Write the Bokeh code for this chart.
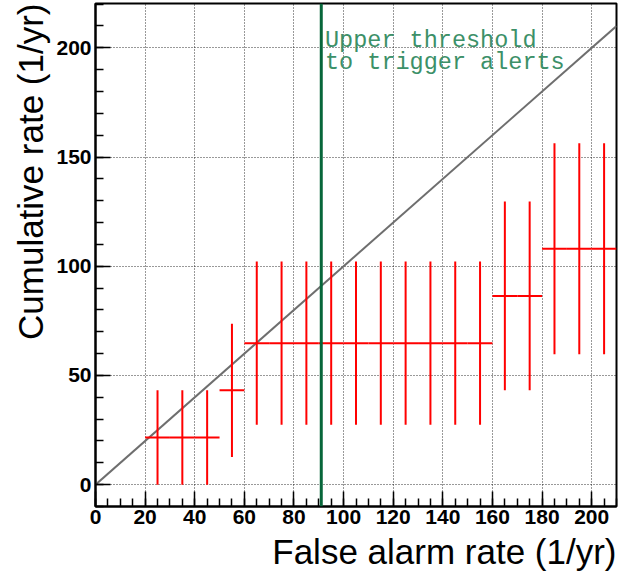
from bokeh.plotting import figure
from bokeh.models import Range1d, FixedTicker, Span, Title
from bokeh.core.properties import value
from bokeh.embed import file_html
from bokeh.resources import INLINE

# ---- data ----
bin_centers = [25, 35, 45, 55, 65, 75, 85, 95, 105, 115, 125, 135, 145, 155, 165, 175, 185, 195, 205]
bin_half_width = 5
rates = [21.6, 21.6, 21.6, 43.2, 64.8, 64.8, 64.8, 64.8, 64.8, 64.8, 64.8, 64.8, 64.8, 64.8,
         86.4, 86.4, 108.0, 108.0, 108.0]
rate_errors = [21.6, 21.6, 21.6, 30.5, 37.4, 37.4, 37.4, 37.4, 37.4, 37.4, 37.4, 37.4, 37.4, 37.4,
               43.2, 43.2, 48.3, 48.3, 48.3]
diag_x = [0, 210]
diag_y = [0, 210]
threshold_x = 91
note_lines = ["Upper threshold", "to trigger alerts"]
note_x = [92.5, 92.5]
note_y = [203.3, 193.4]
x_major = [0, 20, 40, 60, 80, 100, 120, 140, 160, 180, 200]
x_minor = list(range(0, 211, 5))
y_major = [0, 50, 100, 150, 200]
y_minor = list(range(-10, 221, 10))
x_title = "False alarm rate (1/yr)"
y_title = "Cumulative rate (1/yr)"

X_MIN, X_MAX = 0, 210
Y_MIN, Y_MAX = -10, 220.3

p = figure(width=638, height=579, output_backend="svg", toolbar_location=None,
           x_range=Range1d(X_MIN, X_MAX), y_range=Range1d(Y_MIN, Y_MAX),
           min_border_left=95, min_border_right=22, min_border_top=3, min_border_bottom=73)
p.background_fill_color = "white"
p.border_fill_color = "white"
p.outline_line_color = "black"
p.outline_line_width = 2

# grids
for g in (p.xgrid, p.ygrid):
    g.grid_line_color = "black"
    g.grid_line_alpha = 0.8
    g.grid_line_dash = "1 2"
    g.grid_line_width = 1
p.xgrid.ticker = FixedTicker(ticks=x_major)
p.ygrid.ticker = FixedTicker(ticks=y_major)

# axes
p.xaxis.ticker = FixedTicker(ticks=x_major, minor_ticks=x_minor)
p.yaxis.ticker = FixedTicker(ticks=y_major, minor_ticks=y_minor)
for ax in (p.xaxis, p.yaxis):
    ax.axis_line_color = "black"
    ax.axis_line_width = 2
    ax.major_tick_in = 15
    ax.major_tick_out = 0
    ax.minor_tick_in = 8
    ax.minor_tick_out = 0
    ax.major_tick_line_color = "black"
    ax.major_tick_line_width = 1.5
    ax.minor_tick_line_color = "black"
    ax.minor_tick_line_width = 1.5
    ax.major_label_text_font = "Liberation Sans"
    ax.major_label_text_font_style = "bold"
    ax.major_label_text_font_size = "21px"
    ax.major_label_text_color = "black"
p.xaxis.major_label_standoff = 3
p.yaxis.major_label_standoff = 4
p.yaxis.major_label_orientation = "horizontal"

# axis titles (right/top aligned as in the reference)
p.add_layout(Title(text=x_title, align="right", text_font="Liberation Sans",
                   text_font_size="35px", text_font_style="normal", text_color="black",
                   standoff=6, offset=0), "below")
p.add_layout(Title(text=y_title, align="right", text_font="Liberation Sans",
                   text_font_size="35px", text_font_style="normal", text_color="black",
                   standoff=8, offset=0), "left")

# diagonal reference line
p.line(diag_x, diag_y, line_color="#6e6e6e", line_width=2)

# threshold line
p.add_layout(Span(location=threshold_x, dimension="height", line_color="#07663a", line_width=3))

# error bars
xs0 = [c - bin_half_width for c in bin_centers]
xs1 = [c + bin_half_width for c in bin_centers]
lo = [r - e for r, e in zip(rates, rate_errors)]
hi = [r + e for r, e in zip(rates, rate_errors)]
p.segment(x0=xs0, y0=rates, x1=xs1, y1=rates, line_color="#ff0000", line_width=2)
p.segment(x0=bin_centers, y0=lo, x1=bin_centers, y1=hi, line_color="#ff0000", line_width=2)

# annotation
p.text(x=note_x, y=note_y, text=note_lines, text_font=value("Liberation Mono"),
       text_font_size="23.5px", text_color="#3c9068", text_align="left",
       text_baseline="alphabetic")

open("out.html", "w").write(file_html(p, INLINE))
